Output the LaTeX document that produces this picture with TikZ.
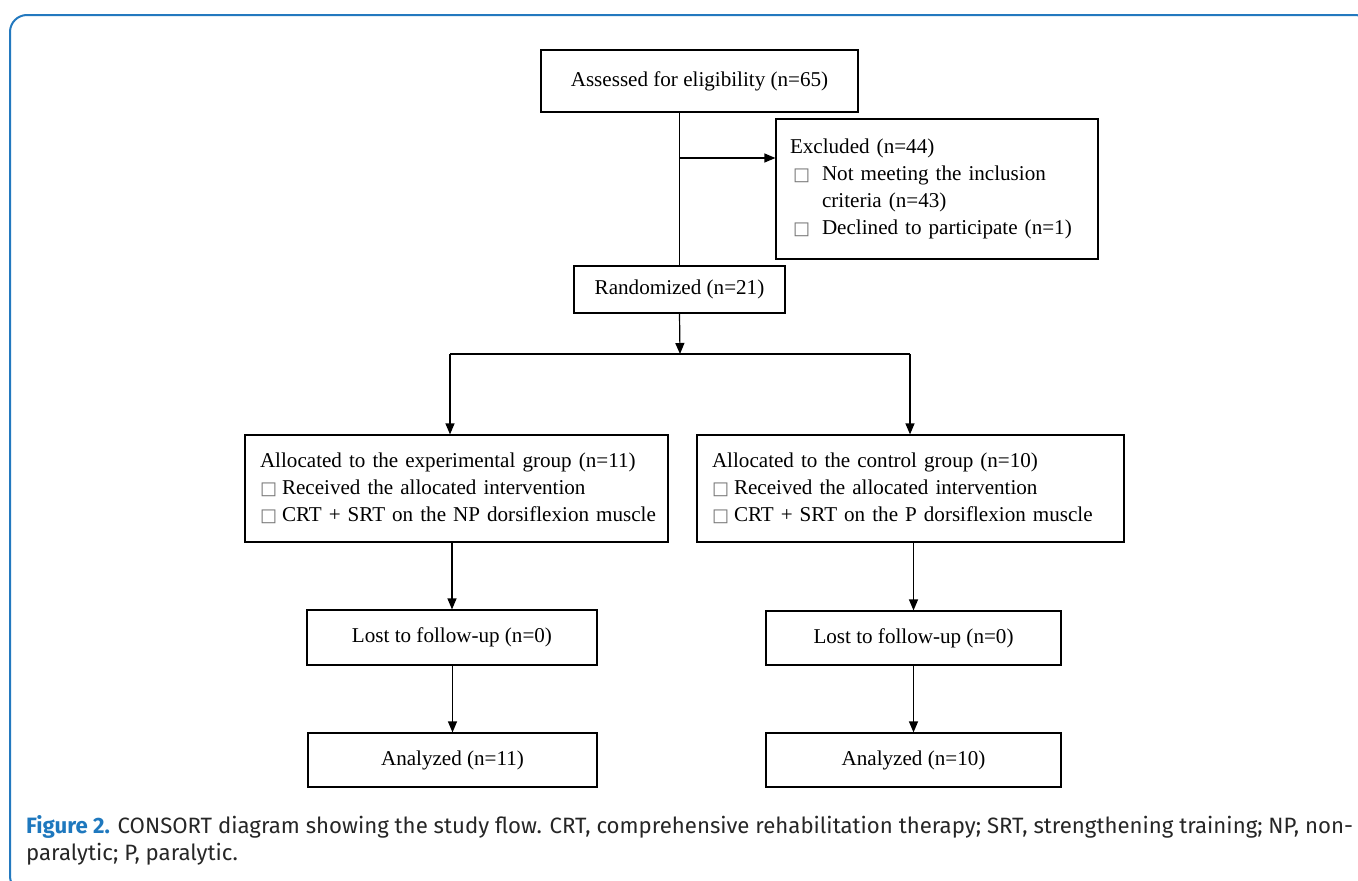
\documentclass[tikz,border=0pt]{standalone}
\usepackage{fontspec}
\setmainfont{Liberation Serif}
\newfontfamily\capfont{Fira Sans}
\newfontfamily\dejavu{DejaVu Sans}
\usetikzlibrary{arrows.meta}
\definecolor{frameblue}{RGB}{35,121,191}
\definecolor{capblue}{RGB}{30,120,190}
\newcommand\bul{{\dejavu\fontsize{18}{18}\selectfont\textcolor{black!55}{□}}}
\begin{document}
\begin{tikzpicture}[x=1pt,y=-1pt,
  box/.style={draw=black, line width=1.2pt, inner ysep=0pt, font=\fontsize{21.1}{27}\selectfont},
  arr/.style={-{Triangle[width=9pt,length=11pt]}, line width=1.2pt},
  ln/.style={line width=1.2pt},
  captxt/.style={anchor=base west, inner sep=0pt, font=\capfont\fontsize{22.2}{28}\selectfont, text=black!85}]
\useasboundingbox (0,0) rectangle (1358,881);
\begin{scope}
\clip (0,0) rectangle (1358,881);
\draw[frameblue, line width=2pt, rounded corners=17pt] (10,15) rectangle (1372,893);
\end{scope}

\node[box, minimum width=317pt, minimum height=62pt] (assess) at (699.5,81) {Assessed for eligibility (n=65)};

\node[box, minimum height=140pt, text width=294pt, inner xsep=14pt, align=left] (excl) at (937,189)
 {\mbox{Excluded (n=44)}\\
  \mbox{\hspace*{3pt}\makebox[29pt][l]{\bul}Not meeting the inclusion}\\
  \mbox{\hspace*{32pt}criteria (n=43)}\\
  \mbox{\hspace*{3pt}\makebox[29pt][l]{\bul}Declined to participate (n=1)}};

\node[box, minimum width=211pt, minimum height=47pt] (rand) at (679.5,289.5) {Randomized (n=21)};

\node[box, minimum height=107pt, text width=393pt, inner xsep=15pt, align=left] (exp) at (456.5,488.5)
 {\mbox{Allocated to the experimental group (n=11)}\\
  \mbox{\makebox[22pt][l]{\bul}Received the allocated intervention}\\
  \mbox{\makebox[22pt][l]{\bul}CRT + SRT on the NP dorsiflexion muscle}};

\node[box, minimum height=107pt, text width=397pt, inner xsep=15pt, align=left] (ctrl) at (910.5,488.5)
 {\mbox{Allocated to the control group (n=10)}\\
  \mbox{\makebox[22pt][l]{\bul}Received the allocated intervention}\\
  \mbox{\makebox[22pt][l]{\bul}CRT + SRT on the P dorsiflexion muscle}};

\node[box, minimum width=290pt, minimum height=55pt] (lostl) at (452,637.5) {Lost to follow-up (n=0)};
\node[box, minimum width=289pt, minimum height=54pt] (anal) at (452.5,760) {Analyzed (n=11)};
\node[box, minimum width=295pt, minimum height=54pt] (lostr) at (913.5,638) {Lost to follow-up (n=0)};
\node[box, minimum width=295pt, minimum height=54pt] (anar) at (913.5,760) {Analyzed (n=10)};

% connectors
\coordinate (jx) at (680,158);
\coordinate (br) at (680,354);
\coordinate (bl) at (450,354);
\coordinate (bq) at (910,354);
\draw[ln] (assess.south -| rand.north) -- (rand.north);
\draw[arr] (jx) -- (jx -| excl.west);
\draw[arr] (rand.south) -- (br);
\draw[ln] (bl) -- (bq);
\draw[arr] (bl) -- (bl |- exp.north);
\draw[arr] (bq) -- (bq |- ctrl.north);
\draw[arr] (exp.south -| lostl.north) -- (lostl.north);
\draw[arr] (lostl.south -| anal.north) -- (anal.north);
\draw[arr] (ctrl.south -| lostr.north) -- (lostr.north);
\draw[arr] (lostr.south -| anar.north) -- (anar.north);

% caption
\node[captxt] (cap1) at (26,833) {{\bfseries\color{capblue}Figure 2.} CONSORT diagram showing the study flow. CRT, comprehensive rehabilitation therapy; SRT, strengthening training; NP, non-};
\node[captxt] (cap2) at (26,860) {paralytic; P, paralytic.};
\end{tikzpicture}
\end{document}
